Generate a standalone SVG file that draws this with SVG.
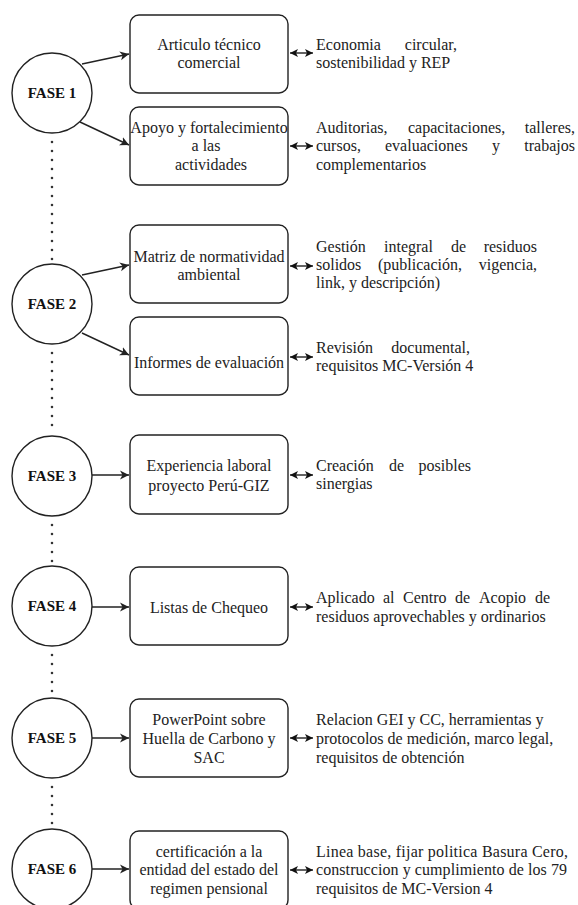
<svg xmlns="http://www.w3.org/2000/svg" width="578" height="905" viewBox="0 0 578 905" font-family="Liberation Serif, Times New Roman, serif">
<defs>
<style>
text{font-size:16px;fill:#222}
.c{text-anchor:middle}
.e{text-anchor:end}
.f{font-weight:bold;font-size:15px;text-anchor:middle;fill:#111}
.box{fill:#fff;stroke:#222;stroke-width:1.4}
.circ{fill:#fff;stroke:#222;stroke-width:1.4}
.ar{stroke:#222;stroke-width:1.4;fill:none}
.dot{stroke:#333;stroke-width:2.6;stroke-linecap:round;stroke-dasharray:0 9;fill:none}
</style>
<marker id="ah" markerWidth="10" markerHeight="10" refX="9" refY="5" orient="auto" markerUnits="userSpaceOnUse">
<path d="M0,0.5 L9,5 L0,9.5 L2.5,5 Z" fill="#222"/>
</marker>
<marker id="bh" markerWidth="9" markerHeight="9" refX="8" refY="4.5" orient="auto-start-reverse" markerUnits="userSpaceOnUse">
<path d="M0,0.5 L8,4.5 L0,8.5 L2,4.5 Z" fill="#111"/>
</marker>
</defs>
<rect width="578" height="905" fill="#fff"/>

<g id="connectors">
<line class="dot" x1="52" y1="142" x2="52" y2="262"/>
<line class="dot" x1="52" y1="353" x2="52" y2="434"/>
<line class="dot" x1="52" y1="525" x2="52" y2="564"/>
<line class="dot" x1="52" y1="655" x2="52" y2="696"/>
<line class="dot" x1="52" y1="787" x2="52" y2="827"/>
<line class="ar" x1="82" y1="64" x2="129" y2="54" marker-end="url(#ah)"/>
<line class="ar" x1="80" y1="122" x2="129" y2="145" marker-end="url(#ah)"/>
<line class="ar" x1="82" y1="275" x2="129" y2="265" marker-end="url(#ah)"/>
<line class="ar" x1="82" y1="333" x2="129" y2="355" marker-end="url(#ah)"/>
<line class="ar" x1="92" y1="475" x2="129" y2="475" marker-end="url(#ah)"/>
<line class="ar" x1="92" y1="607" x2="129" y2="607" marker-end="url(#ah)"/>
<line class="ar" x1="92" y1="738" x2="129" y2="738" marker-end="url(#ah)"/>
<line class="ar" x1="92" y1="869" x2="129" y2="869" marker-end="url(#ah)"/>
<line class="ar" x1="290" y1="53" x2="313" y2="53" marker-start="url(#bh)" marker-end="url(#bh)"/>
<line class="ar" x1="290" y1="146" x2="313" y2="146" marker-start="url(#bh)" marker-end="url(#bh)"/>
<line class="ar" x1="290" y1="266" x2="313" y2="266" marker-start="url(#bh)" marker-end="url(#bh)"/>
<line class="ar" x1="290" y1="357" x2="313" y2="357" marker-start="url(#bh)" marker-end="url(#bh)"/>
<line class="ar" x1="290" y1="475" x2="313" y2="475" marker-start="url(#bh)" marker-end="url(#bh)"/>
<line class="ar" x1="290" y1="607" x2="313" y2="607" marker-start="url(#bh)" marker-end="url(#bh)"/>
<line class="ar" x1="290" y1="738" x2="313" y2="738" marker-start="url(#bh)" marker-end="url(#bh)"/>
<line class="ar" x1="290" y1="870" x2="313" y2="870" marker-start="url(#bh)" marker-end="url(#bh)"/>
</g>

<g id="fase1"><circle class="circ" cx="52" cy="93" r="40"/><text class="f" x="52" y="98">FASE 1</text></g>
<g id="fase2"><circle class="circ" cx="52" cy="304" r="40"/><text class="f" x="52" y="309">FASE 2</text></g>
<g id="fase3"><circle class="circ" cx="52" cy="476" r="40"/><text class="f" x="52" y="481">FASE 3</text></g>
<g id="fase4"><circle class="circ" cx="52" cy="606" r="40"/><text class="f" x="52" y="611">FASE 4</text></g>
<g id="fase5"><circle class="circ" cx="52" cy="738" r="40"/><text class="f" x="52" y="743">FASE 5</text></g>
<g id="fase6"><circle class="circ" cx="52" cy="869" r="40"/><text class="f" x="52" y="874">FASE 6</text></g>

<g id="box1"><rect class="box" x="130" y="15" width="158" height="78" rx="9"/>
<text class="c" x="209" y="50">Articulo técnico</text><text class="c" x="209" y="68">comercial</text></g>
<g id="box2"><rect class="box" x="130" y="107" width="158" height="78" rx="9"/>
<text class="c" x="209" y="133">Apoyo y fortalecimiento</text><text class="c" x="206" y="151">a las</text><text class="c" x="211" y="170">actividades</text></g>
<g id="box3"><rect class="box" x="130" y="225" width="158" height="78" rx="9"/>
<text class="c" x="209" y="262">Matriz de normatividad</text><text class="c" x="209" y="280">ambiental</text></g>
<g id="box4"><rect class="box" x="130" y="317" width="158" height="78" rx="9"/>
<text class="c" x="209" y="368">Informes de evaluación</text></g>
<g id="box5"><rect class="box" x="130" y="435" width="158" height="79" rx="9"/>
<text class="c" x="209" y="471">Experiencia laboral</text><text class="c" x="209" y="491">proyecto Perú-GIZ</text></g>
<g id="box6"><rect class="box" x="130" y="567" width="158" height="78" rx="9"/>
<text class="c" x="209" y="613">Listas de Chequeo</text></g>
<g id="box7"><rect class="box" x="130" y="699" width="158" height="78" rx="9"/>
<text class="c" x="209" y="725">PowerPoint sobre</text><text class="c" x="209" y="744">Huella de Carbono y</text><text class="c" x="209" y="763">SAC</text></g>
<g id="box8"><rect class="box" x="130" y="831" width="158" height="78" rx="9"/>
<text class="c" x="209" y="857">certificación a la</text><text class="c" x="209" y="875">entidad del estado del</text><text class="c" x="209" y="894">regimen pensional</text></g>

<g id="desc1">
<text x="316" y="50">Economia</text><text class="e" x="457" y="50">circular,</text>
<text x="316" y="68">sostenibilidad y REP</text>
</g>
<g id="desc2">
<text x="316" y="133">Auditorias,</text><text x="408" y="133">capacitaciones,</text><text class="e" x="575" y="133">talleres,</text>
<text x="316" y="151">cursos,</text><text x="385" y="151">evaluaciones</text><text x="492" y="151">y</text><text class="e" x="575" y="151">trabajos</text>
<text x="316" y="170">complementarios</text>
</g>
<g id="desc3">
<text x="316" y="252">Gestión</text><text x="384" y="252">integral</text><text x="451" y="252">de</text><text class="e" x="537" y="252">residuos</text>
<text x="316" y="270">solidos</text><text x="378" y="270">(publicación,</text><text class="e" x="537" y="270">vigencia,</text>
<text x="316" y="288">link, y descripción)</text>
</g>
<g id="desc4">
<text x="316" y="353">Revisión</text><text class="e" x="470" y="353">documental,</text>
<text x="316" y="371">requisitos MC-Versión 4</text>
</g>
<g id="desc5">
<text x="316" y="471">Creación</text><text x="389" y="471">de</text><text class="e" x="471" y="471">posibles</text>
<text x="316" y="489">sinergias</text>
</g>
<g id="desc6">
<text x="316" y="603">Aplicado</text><text x="383" y="603">al</text><text x="403" y="603">Centro</text><text x="455" y="603">de</text><text x="479" y="603">Acopio</text><text class="e" x="550" y="603">de</text>
<text x="316" y="622">residuos aprovechables y ordinarios</text>
</g>
<g id="desc7">
<text x="316" y="725">Relacion GEI y CC, herramientas y</text>
<text x="316" y="744">protocolos de medición, marco legal,</text>
<text x="316" y="763">requisitos de obtención</text>
</g>
<g id="desc8">
<text x="316" y="857" textLength="252" lengthAdjust="spacing">Linea base, fijar politica Basura Cero,</text>
<text x="316" y="875" textLength="251" lengthAdjust="spacing">construccion y cumplimiento de los 79</text>
<text x="316" y="894">requisitos de MC-Version 4</text>
</g>
</svg>
